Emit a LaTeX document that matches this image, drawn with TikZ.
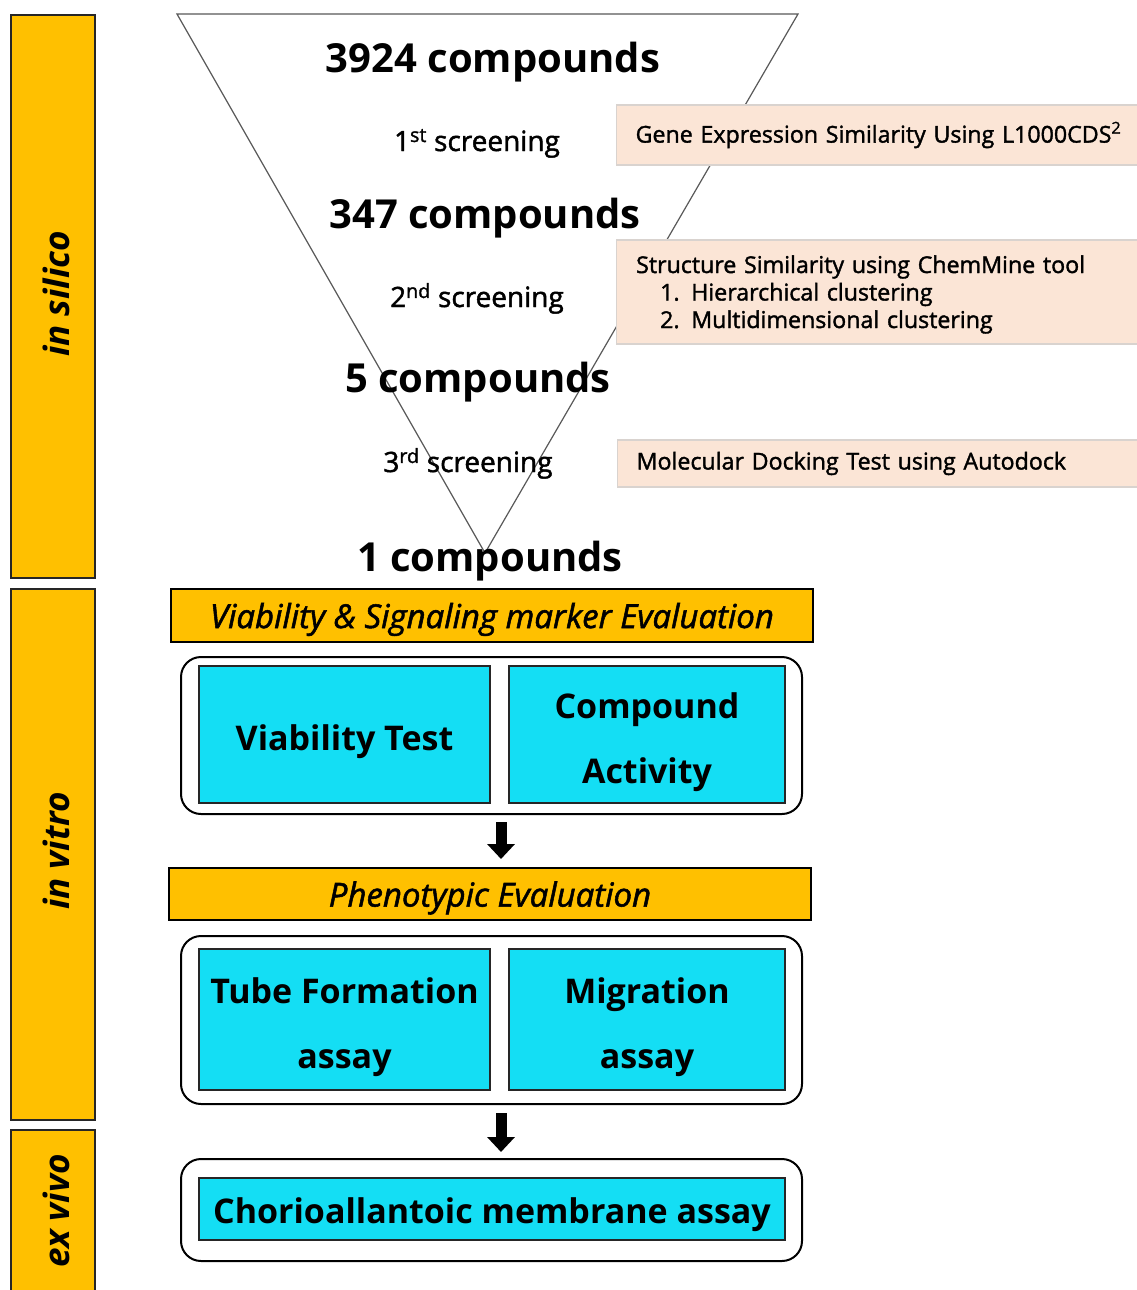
\documentclass[tikz,border=0pt]{standalone}
\usepackage{fontspec}
\setmainfont{Open Sans}
\newfontfamily\medfont{Open Sans}[FakeBold=1.6]
\usetikzlibrary{arrows.meta}
\definecolor{gold}{HTML}{FFC000}
\definecolor{aqua}{HTML}{14DEF4}
\definecolor{peach}{HTML}{FBE5D6}
\definecolor{peachline}{HTML}{D9D3CF}
\definecolor{funnelline}{HTML}{595959}
\begin{document}
\begin{tikzpicture}[x=1pt,y=-1pt,
  sidebar/.style={draw=black!85,line width=2.5pt,fill=gold,inner sep=0pt},
  sidelabel/.style={rotate=90,font=\fontsize{35}{40}\selectfont\bfseries\itshape},
  evalbar/.style={draw=black,line width=2pt,fill=gold,inner sep=0pt},
  evaltext/.style={font=\medfont\fontsize{33}{38}\selectfont\itshape},
  groupbox/.style={draw=black,line width=2pt,rounded corners=20pt,inner sep=0pt},
  cyanbox/.style={draw=black!85,line width=2pt,fill=aqua,inner sep=0pt},
  cyantext/.style={align=center,inner sep=0pt,font=\fontsize{34}{65}\selectfont\bfseries},
  notebox/.style={draw=peachline,line width=1.2pt,fill=peach,anchor=west,
    inner xsep=19pt,inner ysep=0pt,text width=520pt,align=left,
    font=\medfont\fontsize{23.2}{27.5}\selectfont},
  count/.style={anchor=base,font=\fontsize{40}{48}\selectfont\bfseries},
  screen/.style={anchor=base,font=\medfont\fontsize{28}{34}\selectfont},
  blockarrow/.style={line width=11pt,-{Triangle[length=15pt,width=27pt]},black}
]
\clip (0,0) rectangle (1137,1290);
\fill[white] (0,0) rectangle (1137,1290);

% side bars
\node[sidebar,minimum width=84pt,minimum height=563pt] (silico) at (53,296.5) {};
\node[sidebar,minimum width=84pt,minimum height=531pt] (vitro) at (53,854.5) {};
\node[sidebar,minimum width=84pt,minimum height=166pt] (exvivo) at (53,1213) {};
\node[sidelabel] (silicolab) at (56,294) {in silico};
\node[sidelabel] (vitrolab) at (56,851) {in vitro};
\node[sidelabel] (exvivolab) at (56,1211) {ex vivo};

% funnel
\coordinate (ftl) at (177,14);
\coordinate (ftr) at (798,14);
\coordinate (fap) at (485,553);
\draw[funnelline,line width=1.2pt,line join=miter] (ftl) -- (ftr) -- (fap) -- cycle;

% notes
\node[notebox,minimum height=60pt] (note1) at (616,135)
  {Gene Expression Similarity Using L1000CDS\textsuperscript{2}};
\node[notebox,minimum height=104pt] (note2) at (616,292)
  {};
\node[anchor=west,inner sep=0pt,text width=520pt,align=left,
    font=\medfont\fontsize{23.2}{27.5}\selectfont] (note2t) at (636,294.5)
  {Structure Similarity using ChemMine tool\\
   \hspace*{24pt}1. Hierarchical clustering\\
   \hspace*{24pt}2. Multidimensional clustering};
\node[notebox,minimum height=47pt] (note3) at (617,463.5)
  {Molecular Docking Test using Autodock};

% funnel texts
\node[count] (c1) at (493,72) {3924 compounds};
\node[screen] (s1) at (477,151) {1\textsuperscript{st} screening};
\node[count] (c2) at (485,228) {347 compounds};
\node[screen] (s2) at (477,307) {2\textsuperscript{nd} screening};
\node[count] (c3) at (478,392) {5 compounds};
\node[screen] (s3) at (468,472) {3\textsuperscript{rd} screening};
\node[count] (c4) at (490,571) {1 compounds};

% in vitro
\node[evalbar,minimum width=642pt,minimum height=53pt] (eval1) at (492,615.5) {};
\node[evaltext] (eval1t) at ([yshift=-4pt]eval1.center) {Viability \& Signaling marker Evaluation};
\node[groupbox,minimum width=621pt,minimum height=157pt] (group1) at (491.5,735.5) {};
\node[cyanbox,minimum width=291pt,minimum height=137pt] (viab) at (344.5,734.5) {};
\node[cyantext] (viabt) at ([yshift=-7pt]viab.center) {Viability Test};
\node[cyanbox,minimum width=276pt,minimum height=137pt] (comp) at (647,734.5) {};
\node[cyantext] (compt) at ([yshift=-8pt]comp.center) {Compound\\Activity};

\node[evalbar,minimum width=642pt,minimum height=52pt] (eval2) at (490,894) {};
\node[evaltext] (eval2t) at ([yshift=-4pt]eval2.center) {Phenotypic Evaluation};
\node[groupbox,minimum width=621pt,minimum height=168pt] (group2) at (491.5,1020) {};
\node[cyanbox,minimum width=291pt,minimum height=141pt] (tube) at (344.5,1019.5) {};
\node[cyantext] (tubet) at ([yshift=-8pt]tube.center) {Tube Formation\\assay};
\node[cyanbox,minimum width=276pt,minimum height=141pt] (migr) at (647,1019.5) {};
\node[cyantext] (migrt) at ([yshift=-8pt]migr.center) {Migration\\assay};

% ex vivo
\node[groupbox,minimum width=621pt,minimum height=102pt] (group3) at (491.5,1210) {};
\node[cyanbox,minimum width=586pt,minimum height=62pt] (cam) at (492,1209) {};
\node[cyantext] (camt) at ([yshift=-6pt]cam.center) {Chorioallantoic membrane assay};

% arrows
\draw[blockarrow,shorten <=7pt,shorten >=8pt] ([xshift=9.5pt]group1.south) -- ([xshift=11pt]eval2.north);
\draw[blockarrow,shorten <=8pt,shorten >=6pt] ([xshift=9.5pt]group2.south) -- ([xshift=9.5pt]group3.north);
\end{tikzpicture}
\end{document}
